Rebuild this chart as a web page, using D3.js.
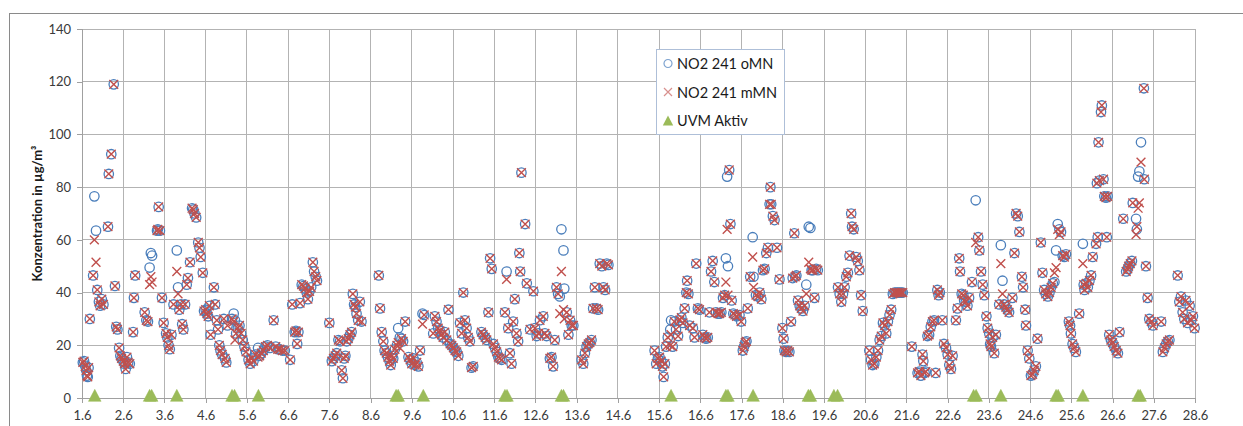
<!DOCTYPE html>
<html><head><meta charset="utf-8">
<script src="https://cdn.jsdelivr.net/npm/d3@7"></script>
<style>body{margin:0;background:#fff}svg{display:block}</style>
</head><body>
<svg id="chart" width="1243" height="426"></svg>
<script>
// ---- data (day of June, fractional; 1 = "1.6") ----
const xTickLabels = ["1.6","2.6","3.6","4.6","5.6","6.6","7.6","8.6","9.6","10.6","11.6","12.6","13.6","14.6","15.6","16.6","17.6","18.6","19.6","20.6","21.6","22.6","23.6","24.6","25.6","26.6","27.6","28.6"];
const yTicks = [0,20,40,60,80,100,120,140];
const seriesNames = ["NO2 241 oMN","NO2 241 mMN","UVM Aktiv"];

const no2oMN = [
[1.02,13.5],[1.05,14],[1.08,12],[1.1,10.5],[1.12,8.5],[1.14,8],[1.16,11.5],[1.19,30],[1.27,46.5],[1.3,76.5],[1.34,63.5],[1.37,41],[1.41,36.5],[1.44,35],[1.48,37.5],[1.52,35.5],[1.63,65],[1.65,85],[1.71,92.5],[1.77,119],[1.8,42.5],[1.83,27],[1.86,26],[1.9,19],[1.93,16],[1.96,15],
[2,14],[2.03,13],[2.06,11],[2.09,15.5],[2.12,13.5],[2.16,13],[2.24,25],[2.26,38],[2.29,46.5],[2.52,32.5],[2.56,29.5],[2.6,29],[2.64,49.5],[2.67,55],[2.7,54],[2.82,63.5],[2.84,64],[2.86,72.5],[2.89,63.5],[2.94,38],[2.98,28.5],
[3.04,24.5],[3.07,23],[3.1,20],[3.13,18.5],[3.17,24],[3.22,35.5],[3.3,56],[3.33,42],[3.36,33.5],[3.4,35.5],[3.43,28],[3.46,26],[3.5,35.5],[3.54,43],[3.57,45.5],[3.62,51.5],[3.67,72],[3.7,71.5],[3.73,70],[3.77,68.5],[3.82,59],[3.85,57],[3.88,53.5],[3.93,47.5],[3.96,33],
[4,33.5],[4.03,32],[4.06,31],[4.09,35],[4.12,24],[4.2,42],[4.23,35.5],[4.27,29.5],[4.3,26],[4.33,20],[4.36,18],[4.4,16.5],[4.44,30],[4.47,15],[4.5,13.5],[4.53,27.5],[4.64,30],[4.68,32],[4.71,29.5],[4.74,24.5],[4.78,26.5],[4.82,27.5],[4.86,24.5],[4.9,22],[4.94,19.5],[4.98,17.5],
[5.04,14.5],[5.08,13],[5.12,15],[5.16,14],[5.21,16.5],[5.27,19],[5.31,16],[5.35,17],[5.4,18],[5.45,19.5],[5.5,20],[5.56,19],[5.65,29.5],[5.7,19.5],[5.75,18.5],[5.8,18.5],[5.86,18],[5.92,18],
[6.05,14.5],[6.1,35.5],[6.16,25],[6.19,25.5],[6.22,20.5],[6.25,25],[6.29,36],[6.33,43],[6.37,42.5],[6.41,41.5],[6.45,40],[6.48,37.5],[6.52,40.5],[6.56,42],[6.6,51.5],[6.63,48],[6.67,46],[6.7,44.5],
[7,28.5],[7.06,14],[7.1,15],[7.14,16],[7.18,17],[7.22,22],[7.26,21.5],[7.3,10.5],[7.33,7.5],[7.36,15],[7.39,16],[7.42,21.5],[7.46,22.5],[7.5,24],[7.54,25],[7.57,39.5],[7.6,35.5],[7.63,34.5],[7.66,32],[7.7,29.5],[7.74,36.5],[7.78,29],
[8.2,46.5],[8.23,34],[8.27,25],[8.31,21.5],[8.34,18],[8.38,17],[8.42,15.5],[8.46,14],[8.49,12.5],[8.52,16],[8.55,15],[8.59,18.5],[8.64,20],[8.67,26.5],[8.71,23],[8.75,22.5],[8.79,21.5],[8.84,29],[8.92,15.5],[8.96,14.5],[9,13],[9.04,15],[9.08,12.5],[9.12,13.5],[9.16,12],[9.2,18],[9.26,32],[9.3,31.5],
[9.52,24.5],[9.56,31],[9.6,29],[9.64,26.5],[9.68,25.5],[9.72,24],[9.76,23],[9.8,25],[9.85,22],[9.89,33.5],[9.93,20.5],[9.97,20],[10.01,19],[10.05,18],[10.09,17.5],[10.13,16],[10.17,28.5],[10.21,24.5],[10.25,40],[10.29,29.5],[10.33,26.5],[10.37,23],[10.41,21.5],[10.45,11.5],[10.49,12],
[10.69,25],[10.73,24],[10.78,23],[10.82,22],[10.86,32.5],[10.9,53],[10.94,49],[10.98,20.5],[11.02,19],[11.06,17.5],[11.1,15.5],[11.14,15],[11.18,14.5],
[11.26,32.5],[11.3,48],[11.34,26.5],[11.38,17],[11.42,13],[11.46,29],[11.5,37.5],[11.54,24.5],[11.58,21.5],[11.61,55],[11.63,48],[11.66,85.5],[11.75,66],[11.79,43.5],[11.87,26],[11.95,40.5],[11.99,26.5],[12.03,23.5],[12.07,24.5],[12.11,29.5],[12.19,31],[12.23,24.5],[12.27,23.5],[12.35,15],[12.39,15.5],[12.43,12],[12.47,22],[12.51,42],[12.55,39.5],
[12.59,38.5],[12.63,64],[12.68,56],[12.7,41.5],[12.76,32.5],[12.8,24],[12.84,29.5],[12.88,27.5],[12.92,27.5],
[13.12,14.5],[13.16,13],[13.2,17],[13.24,19.5],[13.28,20.5],[13.32,21],[13.36,22],[13.4,34],[13.44,42],[13.48,34],[13.52,33.5],[13.56,51],[13.61,50],[13.65,42],[13.69,41],[13.73,51],[13.77,50.5],
[14.89,18],[14.93,13],[14.97,15],[15.01,15.5],[15.05,14],[15.08,12],[15.11,8],[15.14,13],[15.17,19.5],[15.21,23],[15.27,26],[15.29,29.5],[15.33,19.5],[15.37,29],[15.41,26],[15.46,23.5],[15.5,29.5],[15.54,30.5],[15.58,28.5],[15.62,34],[15.66,40],[15.68,44.5],[15.71,39.5],[15.74,27.5],[15.82,26.5],[15.86,23],[15.9,51],[15.94,34],[15.98,33.5],
[16.06,24],[16.1,23],[16.14,22.5],[16.18,23],[16.22,32.5],[16.26,48],[16.3,52],[16.34,44],[16.38,32.5],[16.43,32],[16.47,32],[16.51,32.5],[16.55,38],[16.59,39],
[16.62,53],[16.65,84],[16.67,50],[16.7,86.5],[16.73,66],[16.76,37],[16.8,32],[16.84,31.5],[16.88,31],[16.95,31.5],[16.99,29],[17.03,18],[17.06,19.5],[17.09,21],[17.12,21.5],[17.15,34],[17.21,46],
[17.27,61],[17.29,46],[17.35,39],[17.4,38.5],[17.44,40],[17.48,37.5],[17.52,48.5],[17.56,49],[17.6,55],[17.64,57],[17.68,73.5],[17.7,80],[17.72,73.5],[17.76,69],[17.8,67.5],[17.86,57],[17.92,45],
[17.99,26.5],[18.02,22.5],[18.04,18],[18.08,17.5],[18.12,18],[18.16,17.5],[18.2,29],[18.24,45.5],[18.28,62.5],[18.3,46],[18.33,46.5],[18.37,37],[18.41,35],[18.45,34],[18.49,33],[18.53,35],[18.57,43],[18.63,65],[18.67,64.5],[18.7,48.5],[18.73,48.5],[18.77,38],[18.81,49],[18.85,48.5],
[19.34,42],[19.38,39.5],[19.42,36.5],[19.46,39.5],[19.5,42],[19.54,46],[19.58,47.5],[19.62,54],[19.66,70],[19.68,65],[19.72,64],[19.78,53.5],[19.82,52],[19.86,48.5],[19.9,39],[19.94,33],
[20.1,18],[20.14,14.5],[20.18,12.5],[20.22,13],[20.27,15.5],[20.31,18],[20.35,22],[20.39,23.5],[20.43,28.5],[20.47,27.5],[20.51,24.5],[20.55,29],[20.59,31.5],[20.63,33.5],[20.67,39.5],[20.71,40],[20.75,40],[20.79,40],[20.83,40],[20.87,40],[20.91,40],
[21.13,19.5],[21.27,9.5],[21.31,10],[21.35,8.5],[21.39,16.5],[21.41,14],[21.44,9.5],[21.47,10],[21.51,23.5],[21.55,24],[21.59,27],[21.63,29],[21.67,29.5],[21.71,9.5],[21.75,41],[21.78,39],[21.81,40],
[21.87,29.5],[21.91,20.5],[21.96,19],[22,16.5],[22.04,12.5],[22.08,11],[22.12,16],[22.2,29.5],[22.24,34],[22.28,53],[22.3,48],[22.34,39.5],[22.38,39],[22.4,37],[22.44,36.5],[22.48,35],[22.52,38],
[22.59,44],[22.68,75],[22.74,61],[22.77,56],[22.81,48],[22.85,43],[22.89,39],[22.94,31],[22.97,26.5],[23.01,24.5],[23.03,20.5],[23.05,19.5],[23.09,23],[23.13,17],[23.17,24],
[23.25,35.5],[23.29,58],[23.33,44.5],[23.37,35.5],[23.41,34.5],[23.45,33.5],[23.49,32.5],[23.57,38],[23.62,55],[23.66,70],[23.7,69],[23.74,63],[23.8,46],[23.83,42],[23.88,33.5],[23.9,27.5],[23.94,18],[23.98,15],[24.02,8.5],[24.06,9],[24.1,10.5],[24.14,12],[24.18,22.5],
[24.26,59],[24.3,47.5],[24.34,41],[24.38,39.5],[24.43,38.5],[24.47,40],[24.51,42],[24.55,43.5],[24.59,44],[24.63,56],[24.67,66],[24.71,64],[24.75,63],[24.79,54],[24.83,53.5],[24.87,54.5],[24.94,29],[24.97,27.5],[24.99,24.5],[25.03,20.5],[25.07,19],[25.11,17.5],
[25.19,32],[25.28,58.5],[25.3,43],[25.32,41],[25.36,43.5],[25.4,42],[25.44,44.5],[25.48,46.5],[25.52,53.5],[25.6,58.5],[25.62,81.5],[25.64,61],[25.66,97],[25.68,82.5],[25.72,108.5],[25.74,111],[25.78,83],[25.8,76.5],[25.84,76],[25.86,61],[25.88,76.5],
[25.92,24],[25.96,22],[26,21],[26.04,19.5],[26.09,18],[26.13,17],[26.17,25],[26.26,68],[26.33,48],[26.37,49],[26.39,50],[26.43,51],[26.47,52],
[26.49,74],[26.57,68],[26.59,64],[26.62,84],[26.65,86],[26.69,97],[26.76,117.5],[26.77,83],[26.81,50],[26.85,38],[26.89,30],[26.94,29],[26.98,27.5],[27.18,29],[27.22,17.5],[27.26,19],[27.3,20.5],[27.34,21.5],[27.38,22],
[27.58,46.5],[27.62,36.5],[27.66,38.5],[27.7,32.5],[27.74,30],[27.78,37],[27.82,28.5],[27.87,35],[27.91,29.5],[27.95,31],[27.99,26.5]
];

const no2mMN = [
[1.02,13.5],[1.05,14],[1.08,12],[1.1,10.5],[1.12,8.5],[1.14,8],[1.16,11.5],[1.19,30],[1.27,46.5],[1.3,60],[1.34,51.5],[1.37,41],[1.41,36.5],[1.44,35],[1.48,37.5],[1.52,35.5],[1.63,65],[1.65,85],[1.71,92.5],[1.77,119],[1.8,42.5],[1.83,27],[1.86,26],[1.9,19],[1.93,16],[1.96,15],
[2,14],[2.03,13],[2.06,11],[2.09,15.5],[2.12,13.5],[2.16,13],[2.24,25],[2.26,38],[2.29,46.5],[2.52,32.5],[2.56,29.5],[2.6,29],[2.64,43],[2.67,46],[2.7,44],[2.82,63.5],[2.84,64],[2.86,72.5],[2.89,63.5],[2.94,38],[2.98,28.5],
[3.04,24.5],[3.07,23],[3.1,20],[3.13,18.5],[3.17,24],[3.22,35.5],[3.3,48],[3.33,39.5],[3.36,33.5],[3.4,35.5],[3.43,28],[3.46,26],[3.5,35.5],[3.54,43],[3.57,45.5],[3.62,51.5],[3.67,72],[3.7,71.5],[3.73,70],[3.77,68.5],[3.82,59],[3.85,57],[3.88,53.5],[3.93,47.5],[3.96,33],
[4,33.5],[4.03,32],[4.06,31],[4.09,35],[4.12,24],[4.2,42],[4.23,35.5],[4.27,29.5],[4.3,26],[4.33,20],[4.36,18],[4.4,16.5],[4.44,30],[4.47,15],[4.5,13.5],[4.53,27.5],[4.64,30],[4.68,29],[4.71,22],[4.74,24.5],[4.78,26.5],[4.82,27.5],[4.86,24.5],[4.9,22],[4.94,19.5],[4.98,17.5],
[5.04,14.5],[5.08,13],[5.12,15],[5.16,14],[5.21,16.5],[5.27,15.5],[5.31,16],[5.35,17],[5.4,18],[5.45,19.5],[5.5,20],[5.56,19],[5.65,29.5],[5.7,19.5],[5.75,18.5],[5.8,18.5],[5.86,18],[5.92,18],
[6.05,14.5],[6.1,35.5],[6.16,25],[6.19,25.5],[6.22,20.5],[6.25,25],[6.29,36],[6.33,43],[6.37,42.5],[6.41,41.5],[6.45,40],[6.48,37.5],[6.52,40.5],[6.56,42],[6.6,51.5],[6.63,48],[6.67,46],[6.7,44.5],
[7,28.5],[7.06,14],[7.1,15],[7.14,16],[7.18,17],[7.22,22],[7.26,21.5],[7.3,10.5],[7.33,7.5],[7.36,15],[7.39,16],[7.42,21.5],[7.46,22.5],[7.5,24],[7.54,25],[7.57,39.5],[7.6,35.5],[7.63,34.5],[7.66,32],[7.7,29.5],[7.74,36.5],[7.78,29],
[8.2,46.5],[8.23,34],[8.27,25],[8.31,21.5],[8.34,18],[8.38,17],[8.42,15.5],[8.46,14],[8.49,12.5],[8.52,16],[8.55,15],[8.59,18.5],[8.64,20],[8.67,21],[8.71,19],[8.75,22.5],[8.79,21.5],[8.84,29],[8.92,15.5],[8.96,14.5],[9,13],[9.04,15],[9.08,12.5],[9.12,13.5],[9.16,12],[9.2,18],[9.26,28],[9.3,31.5],
[9.52,24.5],[9.56,31],[9.6,29],[9.64,26.5],[9.68,25.5],[9.72,24],[9.76,23],[9.8,25],[9.85,22],[9.89,33.5],[9.93,20.5],[9.97,20],[10.01,19],[10.05,18],[10.09,17.5],[10.13,16],[10.17,28.5],[10.21,24.5],[10.25,40],[10.29,29.5],[10.33,26.5],[10.37,23],[10.41,21.5],[10.45,11.5],[10.49,12],
[10.69,25],[10.73,24],[10.78,23],[10.82,22],[10.86,32.5],[10.9,53],[10.94,49],[10.98,20.5],[11.02,19],[11.06,17.5],[11.1,15.5],[11.14,15],[11.18,14.5],
[11.26,32.5],[11.3,45],[11.34,26.5],[11.38,17],[11.42,13],[11.46,29],[11.5,37.5],[11.54,24.5],[11.58,21.5],[11.61,55],[11.63,48],[11.66,85.5],[11.75,66],[11.79,43.5],[11.87,26],[11.95,40.5],[11.99,26.5],[12.03,23.5],[12.07,24.5],[12.11,29.5],[12.19,31],[12.23,24.5],[12.27,23.5],[12.35,15],[12.39,15.5],[12.43,12],[12.47,22],[12.51,42],[12.55,39.5],
[12.59,32],[12.63,48],[12.68,33.5],[12.7,30],[12.76,32.5],[12.8,24],[12.84,29.5],[12.88,27.5],[12.92,27.5],
[13.12,14.5],[13.16,13],[13.2,17],[13.24,19.5],[13.28,20.5],[13.32,21],[13.36,22],[13.4,34],[13.44,42],[13.48,34],[13.52,33.5],[13.56,51],[13.61,50],[13.65,42],[13.69,41],[13.73,51],[13.77,50.5],
[14.89,18],[14.93,13],[14.97,15],[15.01,15.5],[15.05,14],[15.08,12],[15.11,8],[15.14,13],[15.17,19.5],[15.21,23],[15.27,20],[15.29,24],[15.33,19.5],[15.37,29],[15.41,26],[15.46,23.5],[15.5,29.5],[15.54,30.5],[15.58,28.5],[15.62,34],[15.66,40],[15.68,44.5],[15.71,39.5],[15.74,27.5],[15.82,26.5],[15.86,23],[15.9,51],[15.94,34],[15.98,33.5],
[16.06,24],[16.1,23],[16.14,22.5],[16.18,23],[16.22,32.5],[16.26,48],[16.3,52],[16.34,44],[16.38,32.5],[16.43,32],[16.47,32],[16.51,32.5],[16.55,38],[16.59,39],
[16.62,44],[16.65,64],[16.67,39],[16.7,86.5],[16.73,66],[16.76,37],[16.8,32],[16.84,31.5],[16.88,31],[16.95,31.5],[16.99,29],[17.03,18],[17.06,19.5],[17.09,21],[17.12,21.5],[17.15,34],[17.21,46],
[17.27,53.5],[17.29,42],[17.35,39],[17.4,38.5],[17.44,40],[17.48,37.5],[17.52,48.5],[17.56,49],[17.6,55],[17.64,57],[17.68,73.5],[17.7,80],[17.72,73.5],[17.76,69],[17.8,67.5],[17.86,57],[17.92,45],
[17.99,26.5],[18.02,22.5],[18.04,18],[18.08,17.5],[18.12,18],[18.16,17.5],[18.2,29],[18.24,45.5],[18.28,62.5],[18.3,46],[18.33,46.5],[18.37,37],[18.41,35],[18.45,34],[18.49,33],[18.53,35],[18.57,39.5],[18.63,51.5],[18.67,49],[18.7,48.5],[18.73,48.5],[18.77,38],[18.81,49],[18.85,48.5],
[19.34,42],[19.38,39.5],[19.42,36.5],[19.46,39.5],[19.5,42],[19.54,46],[19.58,47.5],[19.62,54],[19.66,70],[19.68,65],[19.72,64],[19.78,53.5],[19.82,52],[19.86,48.5],[19.9,39],[19.94,33],
[20.1,18],[20.14,14.5],[20.18,12.5],[20.22,13],[20.27,15.5],[20.31,18],[20.35,22],[20.39,23.5],[20.43,28.5],[20.47,27.5],[20.51,24.5],[20.55,29],[20.59,31.5],[20.63,33.5],[20.67,39.5],[20.71,40],[20.75,40],[20.79,40],[20.83,40],[20.87,40],[20.91,40],
[21.13,19.5],[21.27,9.5],[21.31,10],[21.35,8.5],[21.39,16.5],[21.41,14],[21.44,9.5],[21.47,10],[21.51,23.5],[21.55,24],[21.59,27],[21.63,29],[21.67,29.5],[21.71,9.5],[21.75,41],[21.78,39],[21.81,40],
[21.87,29.5],[21.91,20.5],[21.96,19],[22,16.5],[22.04,12.5],[22.08,11],[22.12,16],[22.2,29.5],[22.24,34],[22.28,53],[22.3,48],[22.34,39.5],[22.38,39],[22.4,37],[22.44,36.5],[22.48,35],[22.52,38],
[22.59,44],[22.68,59],[22.74,61],[22.77,56],[22.81,48],[22.85,43],[22.89,39],[22.94,31],[22.97,26.5],[23.01,24.5],[23.03,20.5],[23.05,19.5],[23.09,23],[23.13,17],[23.17,24],
[23.25,35.5],[23.29,51],[23.33,39.5],[23.37,35.5],[23.41,34.5],[23.45,33.5],[23.49,32.5],[23.57,38],[23.62,55],[23.66,70],[23.7,69],[23.74,63],[23.8,46],[23.83,42],[23.88,33.5],[23.9,27.5],[23.94,18],[23.98,15],[24.02,8.5],[24.06,9],[24.1,10.5],[24.14,12],[24.18,22.5],
[24.26,59],[24.3,47.5],[24.34,41],[24.38,39.5],[24.43,38.5],[24.47,40],[24.51,42],[24.55,43.5],[24.59,47.5],[24.63,49.5],[24.67,64],[24.71,62],[24.75,63],[24.79,54],[24.83,53.5],[24.87,54.5],[24.94,29],[24.97,27.5],[24.99,24.5],[25.03,20.5],[25.07,19],[25.11,17.5],
[25.19,32],[25.28,51],[25.3,43],[25.32,41],[25.36,43.5],[25.4,42],[25.44,44.5],[25.48,46.5],[25.52,53.5],[25.6,58.5],[25.62,81.5],[25.64,61],[25.66,97],[25.68,82.5],[25.72,108.5],[25.74,111],[25.78,83],[25.8,76.5],[25.84,76],[25.86,61],[25.88,76.5],
[25.92,24],[25.96,22],[26,21],[26.04,19.5],[26.09,18],[26.13,17],[26.17,25],[26.26,68],[26.33,48],[26.37,49],[26.39,50],[26.43,51],[26.47,52],
[26.49,74],[26.57,62],[26.59,65],[26.62,72],[26.65,74],[26.69,89.5],[26.76,117.5],[26.77,83],[26.81,50],[26.85,38],[26.89,30],[26.94,29],[26.98,27.5],[27.18,29],[27.22,17.5],[27.26,19],[27.3,20.5],[27.34,21.5],[27.38,22],
[27.58,46.5],[27.62,36.5],[27.66,38.5],[27.7,32.5],[27.74,30],[27.78,37],[27.82,28.5],[27.87,35],[27.91,29.5],[27.95,31],[27.99,26.5]
];

const uvmZeiten = [1.31,2.64,2.69,3.30,4.64,4.70,5.28,8.62,8.67,9.28,11.26,11.31,12.63,12.68,15.29,16.62,16.67,17.28,18.62,18.67,19.24,19.33,22.63,22.69,23.29,24.63,24.68,25.28,26.62,26.67];
const uvmWert = 1;

// ---- drawing ----
const svg = d3.select("#chart");
const W = 1243, H = 426;
const font = "Lato, 'Open Sans', sans-serif";
svg.append("rect").attr("width", W).attr("height", H).attr("fill", "#fff");
svg.append("rect").attr("x", 9.5).attr("y", 13.5).attr("width", 1400).attr("height", 600)
  .attr("fill", "none").attr("stroke", "#8a8a8a");

const x = d3.scaleLinear().domain([1, 28]).range([82, 1195]);
const y = d3.scaleLinear().domain([0, 140]).range([398, 29]);
const xTickVals = xTickLabels.map(s => +s.split(".")[0]);

const grid = svg.append("g").attr("stroke", "#b3b3b3").attr("shape-rendering", "crispEdges");
grid.selectAll("line.h").data(yTicks.slice(1)).join("line")
  .attr("x1", x(1)).attr("x2", x(28)).attr("y1", d => y(d)).attr("y2", d => y(d));
grid.selectAll("line.v").data(xTickVals.slice(1)).join("line")
  .attr("x1", d => x(d)).attr("x2", d => x(d)).attr("y1", y(0)).attr("y2", y(140));

const xAxis = svg.append("g").attr("transform", `translate(0,${y(0)})`)
  .call(d3.axisBottom(x).tickValues(xTickVals).tickFormat((d, i) => xTickLabels[i]).tickSize(5).tickPadding(8));
const yAxis = svg.append("g").attr("transform", `translate(${x(1)},0)`)
  .call(d3.axisLeft(y).tickValues(yTicks).tickSize(5).tickPadding(6));
[xAxis, yAxis].forEach(a => {
  a.selectAll("path,line").attr("stroke", "#a0a0a0").attr("shape-rendering", "crispEdges");
  a.selectAll("text").attr("fill", "#3a3a3a").style("font-family", font).style("font-size", "13px");
});
yAxis.select(".domain").attr("d", `M-5,${y(0)}H0V${y(140)}`);

svg.append("text").attr("transform", `translate(37,${(y(0) + y(140)) / 2}) rotate(-90)`)
  .attr("text-anchor", "middle").attr("dominant-baseline", "central")
  .style("font-family", font).style("font-size", "13px").style("font-weight", "bold")
  .attr("fill", "#1a1a1a").text("Konzentration in µg/m³");

const blue = "#4a7ebb", red = "#c0504d", green = "#9bbb59";
const crossPath = r => `M${-r},${-r}L${r},${r}M${-r},${r}L${r},${-r}`;
const triPath = "M0,-6L6.3,6L-6.3,6Z";

svg.append("g").selectAll("circle").data(no2oMN).join("circle")
  .attr("cx", d => x(d[0])).attr("cy", d => y(d[1])).attr("r", 4.7)
  .attr("fill", "none").attr("stroke", blue).attr("stroke-width", 1.3);
svg.append("g").selectAll("path").data(no2mMN).join("path")
  .attr("transform", d => `translate(${x(d[0])},${y(d[1])})`).attr("d", crossPath(4.4))
  .attr("fill", "none").attr("stroke", red).attr("stroke-width", 1.4);
svg.append("g").selectAll("path").data(uvmZeiten).join("path")
  .attr("transform", d => `translate(${x(d)},${y(uvmWert)})`).attr("d", triPath)
  .attr("fill", green).attr("stroke", green).attr("stroke-width", 0.5);

// legend
const lg = svg.append("g").attr("transform", "translate(656,49)");
lg.append("rect").attr("x", 0.5).attr("y", 0.5).attr("width", 128).attr("height", 85)
  .attr("fill", "#fff").attr("stroke", "#aebfd8");
const rows = [14.5, 43, 71.5];
seriesNames.forEach((n, i) => {
  const g = lg.append("g").attr("transform", `translate(12,${rows[i]})`);
  if (i === 0) g.append("circle").attr("r", 4).attr("fill", "none").attr("stroke", "#7ea3d0").attr("stroke-width", 1.2);
  if (i === 1) g.append("path").attr("d", crossPath(4)).attr("stroke", "#d8908e").attr("stroke-width", 1.2);
  if (i === 2) g.append("path").attr("d", "M0,-5L5.2,5L-5.2,5Z").attr("fill", green);
  lg.append("text").attr("x", 21).attr("y", rows[i]).attr("dominant-baseline", "central")
    .style("font-family", font).style("font-size", "14.5px").attr("fill", "#1a1a1a").text(n);
});
</script>
</body></html>
